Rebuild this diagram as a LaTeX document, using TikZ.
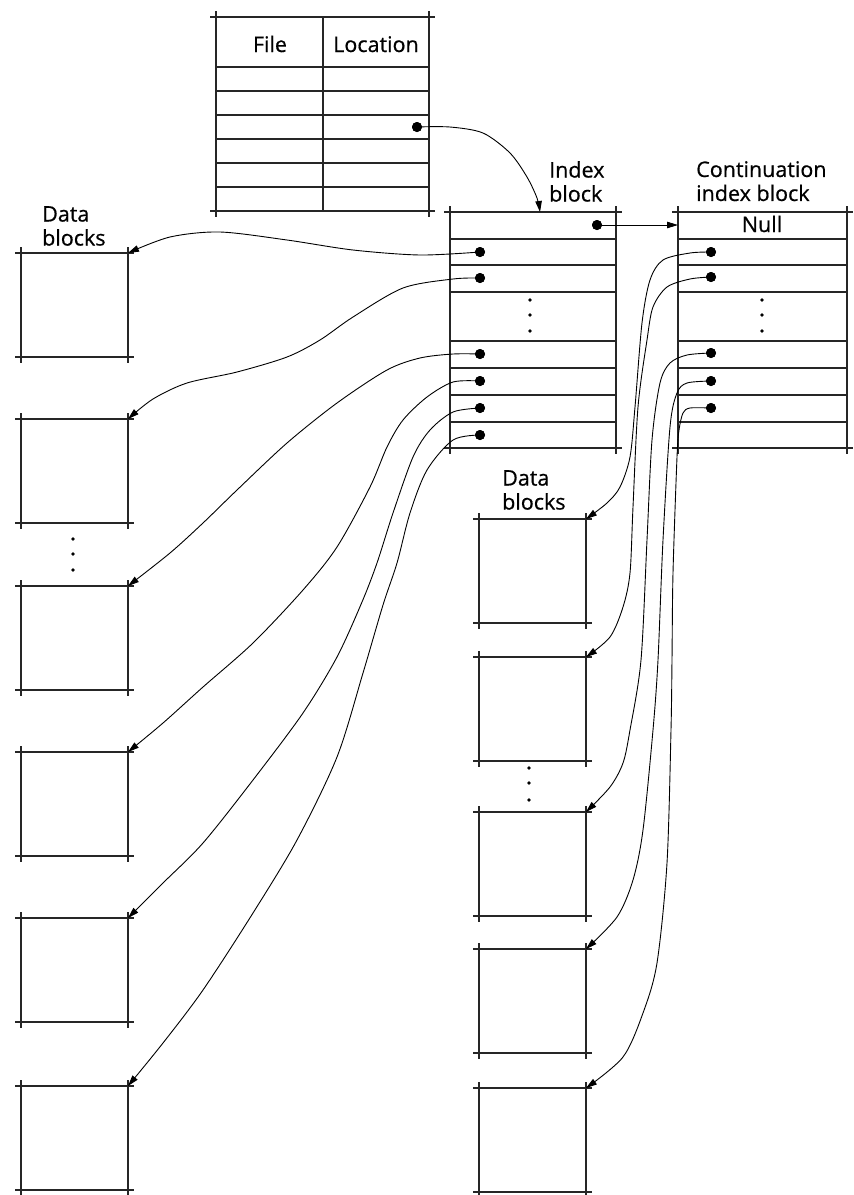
\documentclass[tikz,border=0pt]{standalone}
\usepackage{fontspec}
\setmainfont{Open Sans}[FakeBold=0.6]
\usetikzlibrary{arrows.meta,calc}
\tikzset{
  frame/.style={draw=black!85, line width=1.7pt},
  blk/.style={rectangle, inner sep=0pt, outer sep=0pt, draw=none, anchor=north west},
  dblk/.style={blk, minimum width=107pt, minimum height=104pt},
  ptr/.style={circle, fill=black, inner sep=0pt, minimum size=10pt},
  lbl/.style={font=\fontsize{21.5}{24}\selectfont, inner sep=0pt, text=black},
  conn/.style={draw=black, line width=0.9pt, -{Triangle[length=11pt,width=6.5pt]}},
}
\newcommand\xfr[1]{%
  \draw[frame] ([xshift=-6pt]#1.north west) -- ([xshift=6pt]#1.north east);
  \draw[frame] ([xshift=-6pt]#1.south west) -- ([xshift=6pt]#1.south east);
  \draw[frame] ([yshift=6pt]#1.north west) -- ([yshift=-6pt]#1.south west);
  \draw[frame] ([yshift=6pt]#1.north east) -- ([yshift=-6pt]#1.south east);}
\begin{document}
\begin{tikzpicture}[x=1pt,y=-1pt]
\useasboundingbox[fill=white] (0,0) rectangle (854,1195);

% ---------- directory table ----------
\node[blk, minimum width=213pt, minimum height=194pt] (tbl) at (216,17) {};
\xfr{tbl}
\draw[frame] (323,17) -- (323,211);
\foreach \y in {67,91,115,139,163,187} \draw[frame] (tbl.west |- 0,\y) -- (tbl.east |- 0,\y);
\node[lbl, anchor=base] (hfile) at (270,52) {File};
\node[lbl, anchor=base] (hloc) at (376,52) {Location};

% ---------- index block ----------
\node[blk, minimum width=166pt, minimum height=236pt] (IB) at (450,212) {};
\xfr{IB}
\foreach \y in {239,265,292,341,368,395,422} \draw[frame] (IB.west |- 0,\y) -- (IB.east |- 0,\y);
\node[lbl, align=left, anchor=north west] (lidx) at (549,161) {Index\\block};

% ---------- continuation index block ----------
\node[lbl, align=left, anchor=north west] (lcont) at (696,161) {Continuation\\index block};
\node[blk, minimum width=169pt, minimum height=236pt] (CB) at (678,212) {};
\xfr{CB}
\foreach \y in {239,265,292,341,368,395,422} \draw[frame] (CB.west |- 0,\y) -- (CB.east |- 0,\y);
\node[lbl, anchor=base] (null) at (762,232) {Null};

% vertical ellipses inside blocks
\foreach \y in {300,315,331} {\fill (530,\y) circle (1.8pt); \fill (762,\y) circle (1.8pt);}

% ---------- left data blocks ----------
\node[lbl, align=left, anchor=north west] (ldl) at (42,206) {Data\\blocks};
\foreach \n/\y in {1/253,2/419,3/586,4/752,5/918,6/1086} {
  \node[dblk] (L\n) at (21,\y) {};
  \xfr{L\n}
}
\foreach \y in {539,554,570} \fill (73,\y) circle (1.8pt);

% ---------- right data blocks ----------
\node[lbl, align=left, anchor=north west] (ldr) at (502,470) {Data\\blocks};
\foreach \n/\y in {1/519,2/657,3/812,4/949,5/1088} {
  \node[dblk] (R\n) at (479,\y) {};
  \xfr{R\n}
}
\foreach \y in {768,783,800} \fill (529,\y) circle (1.8pt);

% ---------- pointer dots ----------
\node[ptr] (dloc) at (417,127) {};
\node[ptr] (dt) at (597,225) {};
\foreach \n/\y in {1/252,2/278,3/354,4/381,5/408,6/435} \node[ptr] (i\n) at (480,\y) {};
\foreach \n/\y in {1/252,2/277,3/353,4/381,5/408} \node[ptr] (c\n) at (711,\y) {};
\coordinate (ibin) at (540,212);

% ---------- connectors ----------
\draw[conn] plot[smooth] coordinates {(dloc.center) (450,127) (483,133) (510,153) (527,177) (537,198) (ibin)};
\draw[conn] (dt) -- (dt -| CB.west);

\draw[conn] plot[smooth] coordinates {(i1.center) (420,255) (353,250) (287,240) (220,232) (170,237) (L1.north east)};
\draw[conn] plot[smooth] coordinates {(i2.center) (453,279) (403,288) (353,317) (320,340) (287,357) (237,372) (187,383) (153,399) (L2.north east)};
\draw[conn] plot[smooth] coordinates {(i3.center) (453,354) (420,358) (387,370) (337,403) (287,443) (237,490) (203,523) (170,553) (L3.north east)};
\draw[conn] plot[smooth] coordinates {(i4.center) (453,382) (427,397) (403,420) (387,447) (370,487) (337,547) (303,590) (253,643) (203,687) (163,723) (L4.north east)};
\draw[conn] plot[smooth] coordinates {(i5.center) (453,412) (430,430) (413,457) (393,513) (377,563) (362,602) (337,657) (303,713) (253,780) (203,843) (163,883) (L5.north east)};
\draw[conn] plot[smooth] coordinates {(i6.center) (453,440) (427,470) (410,513) (397,563) (383,605) (363,673) (337,757) (297,840) (253,913) (203,990) (163,1043) (L6.north east)};

\draw[conn] plot[smooth] coordinates {(c1.center) (690,253) (663,260) (650,280) (642,323) (635,407) (630,457) (620,487) (607,503) (R1.north east)};
\draw[conn] plot[smooth] coordinates {(c2.center) (690,279) (667,287) (653,307) (647,340) (638,407) (633,507) (630,573) (623,607) (610,637) (R2.north east)};
\draw[conn] plot[smooth] coordinates {(c3.center) (687,355) (670,363) (660,383) (652,440) (647,540) (641,660) (630,730) (623,763) (610,787) (R3.north east)};
\draw[conn] plot[smooth] coordinates {(c4.center) (687,383) (677,393) (670,427) (663,540) (658,660) (653,730) (643,830) (633,880) (617,917) (R4.north east)};
\draw[conn] plot[smooth] coordinates {(c5.center) (690,408) (683,413) (679,430) (677,457) (673,573) (672,660) (671,730) (667,863) (657,963) (643,1013) (623,1057) (R5.north east)};

% redraw dots on top
\foreach \n in {dloc,dt,i1,i2,i3,i4,i5,i6,c1,c2,c3,c4,c5} \fill (\n) circle (5pt);
\end{tikzpicture}
\end{document}
